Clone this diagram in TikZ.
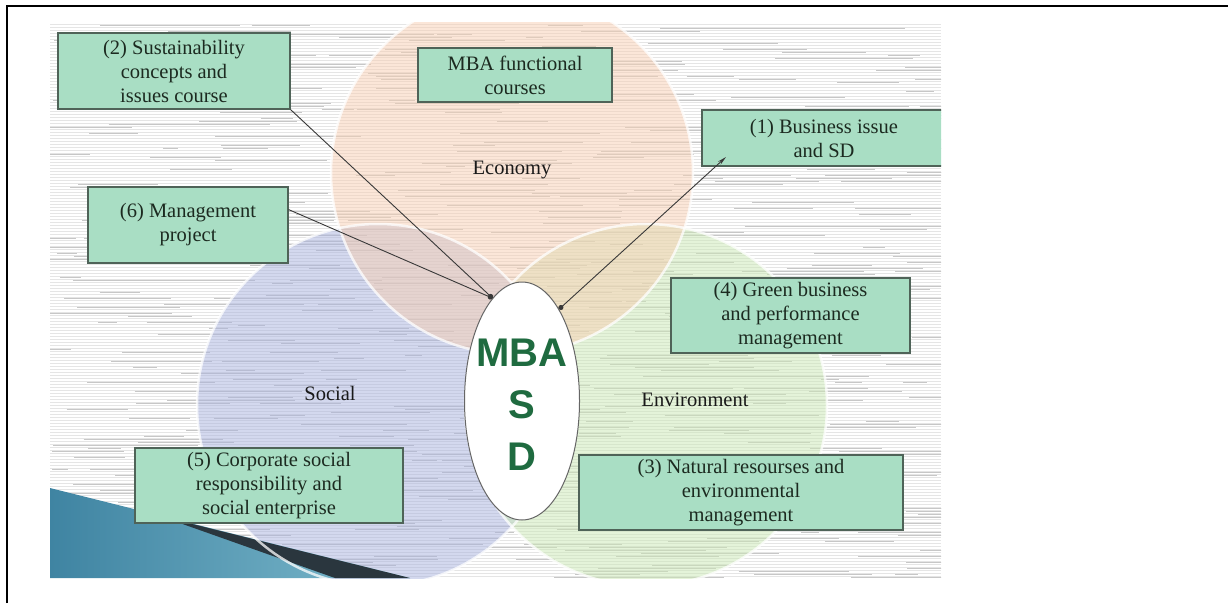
\documentclass[tikz,border=0pt]{standalone}
\usepackage{fontspec}
\setmainfont{Liberation Serif}
\newfontfamily\arialb{Liberation Sans}
\usetikzlibrary{shapes.geometric,arrows.meta,calc}
\definecolor{boxfill}{HTML}{A9DEC4}
\definecolor{boxline}{HTML}{4F6358}
\definecolor{boxtext}{HTML}{1C2A20}
\definecolor{mbagreen}{HTML}{1F6B40}
\definecolor{econc}{HTML}{F8CFB2}
\definecolor{socc}{HTML}{A9B3DE}
\definecolor{envc}{HTML}{CBE8B4}
\definecolor{tealA}{HTML}{3F84A2}
\definecolor{tealB}{HTML}{7DBACD}
\definecolor{darkband}{HTML}{2A363E}
\tikzset{
  cbox/.style={draw=boxline, line width=1.2pt, fill=boxfill, text=boxtext, align=center,
    font=\fontsize{20.5}{24}\selectfont, inner sep=0pt},
  rlabel/.style={font=\fontsize{20.5}{24}\selectfont, text=black!90},
  conn/.style={draw=black!78, line width=0.9pt, -{Circle[length=5pt]}},
  circ/.style={fill opacity=0.5},
  ring/.style={draw=white, opacity=0.75, line width=2.5pt}
}
\begin{document}
\begin{tikzpicture}[x=1pt,y=-1pt]
\useasboundingbox (0,0) rectangle (1228,603);
\draw[line width=1.3pt] (7,603) -- (7,6) -- (1228,6);
\begin{scope}
\clip (50,22) rectangle (941,578);
\fill[white] (50,22) rectangle (941,578);
\pgfmathsetseed{42}
\foreach \yy in {24,27,...,576}{
  \draw[line width=1pt, black!10] (50,\yy) -- (941,\yy);
  \foreach \k in {1,2,3}{
    \pgfmathsetmacro{\xa}{40+rnd*880}
    \pgfmathsetmacro{\ln}{15+rnd*130}
    \draw[line width=0.7pt, black!22] (\xa,\yy+0.9) -- ++(\ln,0);
  }
}
\fill[circ, fill=socc] (378,405) circle[radius=181];
\fill[circ, fill=envc] (646,405) circle[radius=181];
\fill[circ, fill=econc] (512,173) circle[radius=181];
\shade[left color=tealA, right color=tealB] (50,488) -- (410,578) -- (50,578) -- cycle;
\fill[darkband] (160,516) -- (410,578) -- (335,578) -- cycle;
\draw[ring] (378,405) circle[radius=181];
\draw[ring] (646,405) circle[radius=181];
\draw[ring] (512,173) circle[radius=181];
\node[cbox, minimum width=244, minimum height=56] (b1) at (824,138) {(1) Business issue\\and SD};
\end{scope}

\node[rlabel] (econ) at (512,170) {Economy};
\node[rlabel] (soc) at (330,393) {Social};
\node[rlabel] (env) at (695,400) {Environment};

\node[cbox, minimum width=232, minimum height=76] (b2) at (174,71) {(2) Sustainability\\concepts and\\issues course};
\node[cbox, minimum width=194, minimum height=54] (bf) at (515,75) {MBA functional\\courses};
\node[cbox, minimum width=200, minimum height=76] (b6) at (188,225) {(6) Management\\project};
\node[cbox, minimum width=239, minimum height=75] (b4) at (790.5,315.5) {(4) Green business\\and performance\\management};
\node[cbox, minimum width=324, minimum height=75] (b3) at (741,492.5) {(3) Natural resourses and\\environmental\\management};
\node[cbox, minimum width=268, minimum height=75] (b5) at (269,485.5) {(5) Corporate social\\responsibility and\\social enterprise};

\node[draw=black!60, line width=1pt, fill=white, ellipse, minimum width=115, minimum height=238, inner sep=0pt] (mba) at (522,401) {};
\node[font=\arialb\bfseries\fontsize{40}{52}\selectfont, text=mbagreen, align=center, inner sep=0pt] (mbatxt) at (522,405) {MBA\\S\\D};

\coordinate (t1) at (726,157);
\draw[conn] (b2.south east) -- (mba.106);
\draw[conn] ($(b6.north east)!0.3!(b6.south east)$) -- (mba.106);
\draw[conn, {Stealth[length=9pt,width=4pt]}-{Circle[length=5pt]}] (t1) -- (mba.68);
\end{tikzpicture}
\end{document}
